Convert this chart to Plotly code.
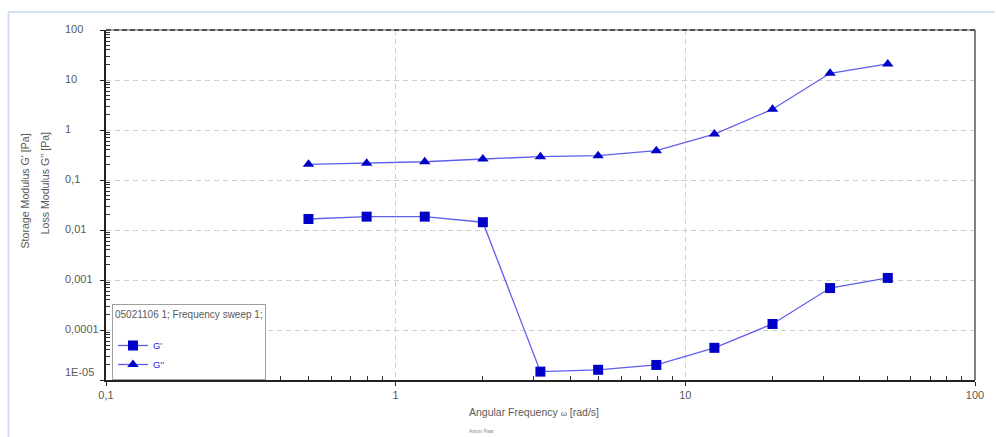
import numpy as np
import plotly.graph_objects as go

# ---- data ----
freq = [0.5, 0.794, 1.26, 2.0, 3.16, 5.0, 7.94, 12.6, 20.0, 31.6, 50.0]
g_storage = [0.0166, 0.0185, 0.0185, 0.0143, 1.47e-5, 1.6e-5, 2.0e-5, 4.4e-5, 1.32e-4, 6.9e-4, 1.1e-3]
g_loss = [0.206, 0.216, 0.232, 0.263, 0.293, 0.306, 0.385, 0.83, 2.6, 13.6, 21.0]

y_tick_vals = [100, 10, 1, 0.1, 0.01, 0.001, 0.0001, 0.00001]
y_tick_text = ["100", "10", "1", "0,1", "0,01", "0,001", "0,0001", "1E-05"]
x_tick_vals = [0.1, 1, 10, 100]
x_tick_text = ["0,1", "1", "10", "100"]
legend_title = "05021106 1; Frequency sweep 1;"
series_names = ["G'", "G''"]

W, H = 996, 437
ML, MR, MT, MB = 106, 16, 30, 57
PW, PH = W - ML - MR, H - MT - MB

def px(xp):
    return (xp - ML) / PW

def py(yp):
    return (H - MB - yp) / PH

LINE = "rgb(95,95,235)"
MARK = "rgb(0,0,200)"
GRAY = "#5a5a5a"
FONT = "Liberation Sans, Arial, sans-serif"

minor_x = [m * 10.0 ** e for e in range(-1, 2) for m in range(2, 10)]
minor_y = [m * 10.0 ** e for e in range(-5, 2) for m in range(2, 10)]

fig = go.Figure()
fig.add_trace(go.Scatter(
    x=freq, y=g_storage, name=series_names[0], mode="lines+markers",
    line=dict(color=LINE, width=1.3),
    marker=dict(symbol="square", size=10, color=MARK, line=dict(width=0)),
))
fig.add_trace(go.Scatter(
    x=freq, y=g_loss, name=series_names[1], mode="lines+markers",
    line=dict(color=LINE, width=1.3),
    marker=dict(symbol="triangle-up", size=10, color=MARK, line=dict(width=0)),
))

fig.update_xaxes(
    type="log", range=[-1, 2], tickvals=x_tick_vals, ticktext=x_tick_text,
    ticks="outside", ticklen=4, tickcolor="#222", tickwidth=1,
    showline=True, linecolor="#222", linewidth=1.5,
    showgrid=True, gridcolor="#cdcdcd", griddash="5px,4px", gridwidth=1,
    zeroline=False,
    tickfont=dict(family=FONT, size=11, color=GRAY),
    minor=dict(tickvals=minor_x, ticks="inside", ticklen=4, tickcolor="#333", showgrid=False),
)
fig.update_yaxes(
    type="log", range=[-5, 2], tickvals=y_tick_vals, showticklabels=False,
    ticks="outside", ticklen=4, tickcolor="#222", tickwidth=1,
    showline=True, linecolor="#222", linewidth=1.5,
    showgrid=True, gridcolor="#cdcdcd", griddash="5px,4px", gridwidth=1,
    zeroline=False,
    minor=dict(tickvals=minor_y, ticks="inside", ticklen=4, tickcolor="#333", showgrid=False),
)

annotations = []
# left-aligned y tick labels
for v, t in zip(y_tick_vals, y_tick_text):
    annotations.append(dict(
        x=px(63), xref="paper", y=np.log10(v), yref="y", text=t, showarrow=False,
        xanchor="left", yanchor="middle", yshift=(8 if v == 0.00001 else 1),
        font=dict(family=FONT, size=11, color=GRAY),
    ))
# axis titles
annotations.append(dict(
    x=px(536), xref="paper", y=py(412), yref="paper", text="Angular Frequency <span style='font-size:8px'>ω</span> [rad/s]",
    showarrow=False, xanchor="center", yanchor="middle",
    font=dict(family=FONT, size=10.5, color=GRAY),
))
annotations.append(dict(
    x=px(25), xref="paper", y=py(191), yref="paper", text="Storage Modulus G' [Pa]",
    showarrow=False, textangle=-90, xanchor="center", yanchor="middle",
    font=dict(family=FONT, size=10.6, color=GRAY),
))
annotations.append(dict(
    x=px(45), xref="paper", y=py(183), yref="paper", text="Loss Modulus G'' [Pa]",
    showarrow=False, textangle=-90, xanchor="center", yanchor="middle",
    font=dict(family=FONT, size=10.6, color=GRAY),
))
annotations.append(dict(
    x=px(484), xref="paper", y=py(431), yref="paper", text="Anton Paar",
    showarrow=False, xanchor="center", yanchor="middle",
    font=dict(family=FONT, size=5, color="#888"),
))

shapes = [
    # outer light frame
    dict(type="line", xref="paper", yref="paper", x0=px(8), x1=px(1000), y0=py(12), y1=py(12),
         line=dict(color="#d3dff3", width=2)),
    dict(type="line", xref="paper", yref="paper", x0=px(8), x1=px(8), y0=py(12), y1=py(440),
         line=dict(color="#d3dff3", width=2)),
    # top border of plot (dashed dark) and right border
    dict(type="line", xref="paper", yref="paper", x0=0, x1=1, y0=1, y1=1,
         line=dict(color="#aaaaaa", width=2)),
    dict(type="line", xref="paper", yref="paper", x0=0, x1=1, y0=1, y1=1,
         line=dict(color="#333333", width=1.5, dash="5px,3px")),
    dict(type="line", xref="paper", yref="paper", x0=1, x1=1, y0=0, y1=1,
         line=dict(color="#555555", width=1.5)),
]

fig.update_layout(
    width=W, height=H,
    margin=dict(l=ML, r=MR, t=MT, b=MB, pad=0),
    paper_bgcolor="white", plot_bgcolor="white",
    showlegend=True,
    legend=dict(
        x=px(112), y=py(304), xanchor="left", yanchor="top",
        bgcolor="white", bordercolor="#a0a0a0", borderwidth=1,
        title=dict(text=legend_title + "<br> ", font=dict(family=FONT, size=10, color=GRAY)),
        font=dict(family=FONT, size=9.5, color="rgb(40,40,230)"),
        itemwidth=30, tracegroupgap=0,
    ),
    annotations=annotations,
    shapes=shapes,
)

fig.write_html(
    "out.html",
    config={"displayModeBar": False},
    post_script="document.body.style.margin='0';document.body.style.overflow='hidden';",
)
